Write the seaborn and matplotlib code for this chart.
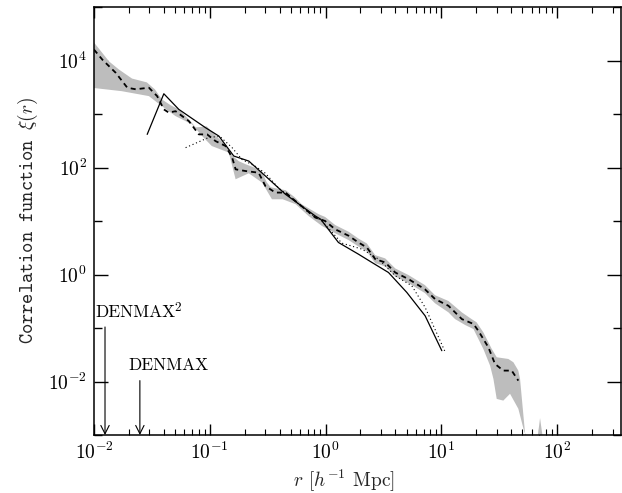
import numpy as np
import pandas as pd
import matplotlib
matplotlib.use("Agg")
import matplotlib.pyplot as plt
import seaborn as sns
from matplotlib.ticker import FixedLocator, NullFormatter, LogFormatterMathtext

# ---- data ----
dash_r = [0.0100, 0.0118, 0.0154, 0.0194, 0.0229, 0.0298, 0.0351, 0.0401, 0.0443, 0.0506,
          0.0659, 0.0804, 0.0948, 0.112, 0.137, 0.156, 0.167, 0.203, 0.264, 0.302,
          0.368, 0.450, 0.548, 0.668, 0.815, 0.99, 1.21, 1.58, 1.92, 2.27,
          2.68, 3.27, 3.99, 5.2, 7.2, 8.8, 11.5, 15.0, 18.9, 20.8,
          25.4, 29.0, 34.2, 40.4, 46.1]
dash_xi = [1.6e4, 1.04e4, 5.9e3, 3.1e3, 2.9e3, 3.1e3, 2.16e3, 1.22e3, 1.06e3, 1.13e3,
           738, 416, 416, 312, 252, 153, 92.5, 86, 80, 45,
           34, 34, 23.7, 16.6, 11.6, 10.0, 7.0, 5.3, 3.97, 3.2,
           1.94, 1.68, 1.09, 0.82, 0.53, 0.348, 0.26, 0.147, 0.119, 0.089,
           0.0437, 0.0213, 0.016, 0.016, 0.0104]

solid_r = [0.0288, 0.0401, 0.054, 0.0918, 0.1197, 0.161, 0.217, 0.302, 0.450,
           0.815, 0.906, 1.29, 1.92, 2.51, 3.49, 5.02, 7.23, 10.07]
solid_xi = [416, 2390, 1220, 555, 387, 164, 132, 69.3, 31.6,
            12.4, 10.8, 3.97, 2.40, 1.68, 1.09, 0.463, 0.169, 0.0377]

dot_r = [0.0618, 0.098, 0.122, 0.155, 0.189, 0.248, 0.302, 0.394, 0.512,
         0.713, 0.929, 1.38, 2.06, 2.86, 3.99, 5.55, 7.23, 10.8]
dot_xi = [235, 365, 382, 238, 142, 105, 78, 40.9, 26.6,
          14.4, 10.0, 3.86, 2.98, 1.94, 0.946, 0.615, 0.243, 0.0352]

band_up_r = [0.0095, 0.0135, 0.0164, 0.0213, 0.0286, 0.0336, 0.0386, 0.0461, 0.054, 0.0659,
             0.0757, 0.0941, 0.112, 0.132, 0.146, 0.155, 0.178, 0.204, 0.239, 0.281,
             0.310, 0.336, 0.452, 0.541, 0.621, 0.871, 0.99, 1.21, 1.58, 1.92,
             2.27, 2.68, 3.27, 3.99, 5.2, 7.2, 8.8, 11.5, 15.0, 18.2,
             20.1, 23.0, 27.2, 30.0, 37.8, 41.8, 46.1, 47.7, 52.6, 56.2,
             63.4, 71.0, 80.4]
band_up_xi = [2.5e4, 9.6e3, 6.8e3, 4.6e3, 3.9e3, 2.88e3, 1.87e3, 1.45e3, 1.22e3, 793,
              562, 587, 399, 283, 219, 169, 131, 115, 101, 85,
              53, 42.7, 37.6, 27.8, 20.6, 13.4, 11.9, 8.4, 6.3, 4.7,
              3.8, 2.3, 2.0, 1.30, 0.975, 0.634, 0.41, 0.32, 0.196, 0.147,
              0.128, 0.083, 0.0406, 0.0284, 0.0264, 0.0229, 0.016, 0.0112, 1.13e-3, 3e-4,
              3e-4, 2.07e-3, 3e-4]

band_lo_r = [0.0095, 0.0174, 0.0298, 0.0386, 0.0506, 0.0703, 0.0859, 0.104, 0.146, 0.167,
             0.217, 0.283, 0.344, 0.426, 0.551, 0.713, 0.929, 1.21, 1.58, 1.92,
             2.27, 2.68, 3.27, 3.99, 5.2, 7.2, 8.8, 11.5, 13.1, 16.0,
             18.9, 23.0, 26.3, 28.1, 30.0, 34.2, 39.1, 46.1, 52.0]
band_lo_xi = [3.1e3, 2.67e3, 2.16e3, 1.40e3, 914, 640, 387, 252, 190, 60.3,
              78, 52.2, 25.5, 25.5, 20.6, 12.4, 8.1, 5.9, 4.4, 3.34,
              2.70, 1.63, 1.42, 0.92, 0.69, 0.45, 0.29, 0.196, 0.147, 0.114,
              0.0957, 0.0406, 0.0198, 0.0112, 4.73e-3, 4.4e-3, 5.9e-3, 3.1e-3, 1.13e-3]

arrow_labels = ["DENMAX", "DENMAX"]
arrow_sups = ["2", ""]
arrow_r = [0.01245, 0.0249]
arrow_top = [0.1045, 0.0104]
label_r = [0.0102, 0.0200]
label_xi = [0.20, 0.0205]

x_major = [1e-2, 1e-1, 1e0, 1e1, 1e2]
y_major = [1e-2, 1e0, 1e2, 1e4]
y_minor = [1e-3, 1e-1, 1e1, 1e3, 1e5]

# ---- style ----
sns.set_theme(style="ticks")
plt.rcParams.update({
    "font.family": ["cmr10"],
    "mathtext.fontset": "cm",
    "axes.formatter.use_mathtext": True,
    "axes.linewidth": 1.1,
    "axes.edgecolor": "black",
    "xtick.color": "black",
    "ytick.color": "black",
})

fig = plt.figure(figsize=(6.22, 4.93), dpi=100)
ax = fig.add_axes([0.1511, 0.1176, 0.8473, 0.8682])
ax.set_xscale("log")
ax.set_yscale("log")

# gray band
poly_r = band_up_r + band_lo_r[::-1]
poly_xi = band_up_xi + band_lo_xi[::-1]
ax.fill(poly_r, poly_xi, color="#bdbdbd", lw=0, zorder=1)

sns.lineplot(x=dot_r, y=dot_xi, ax=ax, color="black", lw=0.8, sort=False,
             estimator=None, linestyle=(0, (1, 2.4)), zorder=3)
sns.lineplot(x=solid_r, y=solid_xi, ax=ax, color="black", lw=0.9, sort=False,
             estimator=None, zorder=3)
sns.lineplot(x=dash_r, y=dash_xi, ax=ax, color="black", lw=1.3, sort=False,
             estimator=None, linestyle=(0, (2.8, 2.2)), zorder=4)

ax.set_xlim(0.01, 355)
ax.set_ylim(1e-3, 1e5)

for r, top in zip(arrow_r, arrow_top):
    ax.annotate("", xy=(r, 1e-3), xytext=(r, top),
                arrowprops=dict(arrowstyle="->,head_length=0.6,head_width=0.3",
                                lw=0.8, color="black", shrinkA=0, shrinkB=0,
                                mutation_scale=10))
for txt, sup, r, y in zip(arrow_labels, arrow_sups, label_r, label_xi):
    t = ax.text(r, y, txt, ha="left", va="center", fontsize=12.5, color="black")
    if sup:
        ax.annotate(sup, xy=(1, 1), xycoords=t, xytext=(-0.5, 1.5),
                    textcoords="offset points", ha="left", va="top",
                    fontsize=9.5, color="black")

# ticks
ax.xaxis.set_major_locator(FixedLocator(x_major))
ax.xaxis.set_major_formatter(LogFormatterMathtext())
ax.xaxis.set_minor_locator(matplotlib.ticker.LogLocator(base=10, subs=np.arange(2, 10), numticks=20))
ax.xaxis.set_minor_formatter(NullFormatter())
ax.yaxis.set_major_locator(FixedLocator(y_major))
ax.yaxis.set_major_formatter(LogFormatterMathtext())
ax.yaxis.set_minor_locator(FixedLocator(y_minor))
ax.yaxis.set_minor_formatter(NullFormatter())

ax.tick_params(which="both", direction="in", top=True, right=True, colors="black")
ax.tick_params(axis="x", which="major", length=8, width=1.0, labelsize=14, pad=5)
ax.tick_params(axis="x", which="minor", length=4.5, width=0.8)
ax.tick_params(axis="y", which="major", length=10, width=1.0, labelsize=14, pad=5)
ax.tick_params(axis="y", which="minor", length=6, width=1.0)

ax.set_xlabel("$r$ [$h^{-1}$ Mpc]", fontsize=14)
ax.xaxis.set_label_coords(0.474, -0.078)
ax.set_ylabel("Correlation function $\\xi(r)$", fontsize=14, fontfamily="cmtt10", labelpad=6)

for s in ax.spines.values():
    s.set_color("black")
    s.set_linewidth(1.1)

fig.savefig("out.png", dpi=100)
